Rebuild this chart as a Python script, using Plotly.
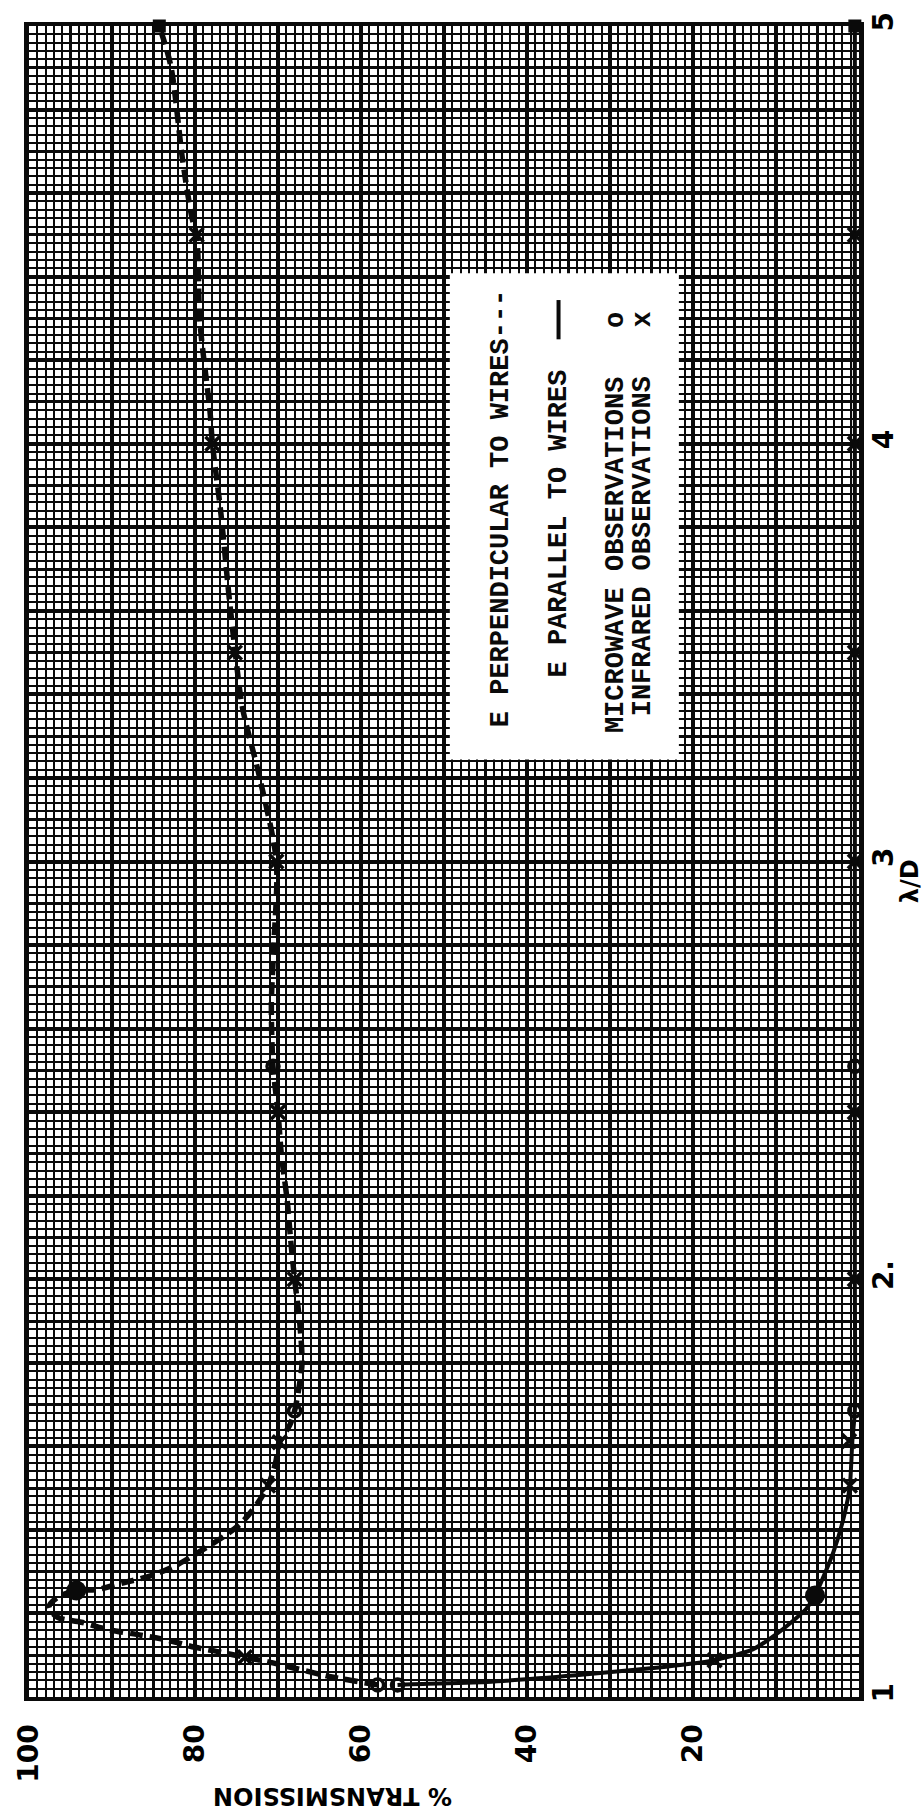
import plotly.graph_objects as go

# ---------------- data ----------------
# E perpendicular to wires (dashed curve): lambda/D and % transmission
perp_ld = [1.029, 1.048, 1.067, 1.084, 1.095, 1.107, 1.119, 1.136, 1.148, 1.162,
           1.179, 1.191, 1.215, 1.238, 1.255, 1.257, 1.274, 1.291, 1.317, 1.351,
           1.386, 1.417, 1.46, 1.506, 1.56, 1.61, 1.65, 1.685, 1.75, 1.80,
           1.90, 2.00, 2.10, 2.19, 2.30, 2.40, 2.51, 2.66, 2.80, 3.00,
           3.20, 3.37, 3.509, 3.635, 3.837, 4.0, 4.079, 4.29, 4.497, 4.544,
           4.68, 4.903, 5.0]
perp_t = [58.0, 63.5, 67.6, 71.2, 74.0, 76.8, 80.0, 83.3, 86.5, 90.6,
          93.7, 96.6, 97.6, 96.6, 94.3, 91.9, 88.5, 85.2, 82.1, 79.2,
          76.4, 74.4, 72.6, 71.2, 70.3, 69.8, 68.6, 68.0, 67.4, 67.1,
          67.4, 68.0, 68.5, 68.9, 69.6, 70.0, 70.6, 70.8, 70.5, 70.2,
          72.2, 74.3, 75.2, 75.9, 76.9, 77.9, 78.2, 79.4, 79.8, 80.4,
          81.5, 82.9, 84.3]

# E parallel to wires (solid curve)
par_ld = [1.029, 1.030, 1.036, 1.052, 1.072, 1.088, 1.114, 1.162, 1.210, 1.243,
          1.346, 1.441, 1.506, 1.613, 1.685, 2.0, 3.0, 4.0, 5.0]
par_t = [55.6, 54.8, 44.9, 34.1, 23.5, 17.4, 12.8, 9.2, 6.4, 5.3,
         3.1, 1.7, 1.1, 0.8, 0.5, 0.5, 0.5, 0.5, 0.5]

# microwave observations (o)
mw_ld = [1.029, 1.685, 2.51, 1.029, 1.685, 2.51]
mw_t = [58.0, 68.0, 70.6, 55.6, 0.5, 0.5]

# infrared observations (x)
ir_ld = [1.095, 1.506, 1.61, 2.0, 2.4, 3.0, 3.5, 4.0, 4.5,
         1.088, 1.506, 1.613, 2.0, 2.4, 3.0, 3.5, 4.0, 4.5]
ir_t = [74.0, 71.2, 69.8, 68.0, 70.0, 70.2, 75.2, 77.9, 79.8,
        17.4, 1.1, 1.2, 0.5, 0.5, 0.5, 0.5, 0.5, 0.5]

# coincident microwave + infrared points (filled)
both_ld = [1.255, 1.243]
both_t = [94.3, 5.3]
end_ld = [5.0, 5.0]
end_t = [84.3, 0.5]

# tick labels
t_label_vals = [20, 40, 60, 80, 100]
t_label_text = ["20", "40", "60", "80", "100"]
ld_label_vals = [1, 2, 3, 4, 5]
ld_label_text = ["1", "2.", "3", "4", "5"]

legend_lines = ["E PERPENDICULAR TO WIRES---",
                "E PARALLEL TO WIRES",
                "MICROWAVE OBSERVATIONS   o",
                " INFRARED OBSERVATIONS   x"]

# ---------------- figure ----------------
INK = "#0a0a0a"
fig = go.Figure()

fig.add_trace(go.Scatter(x=perp_t, y=perp_ld, mode="lines", cliponaxis=False,
                         line=dict(color=INK, width=5.5, dash="13px,7px",
                                   shape="spline", smoothing=0.8),
                         showlegend=False, hoverinfo="skip"))
fig.add_trace(go.Scatter(x=par_t, y=par_ld, mode="lines", cliponaxis=False,
                         line=dict(color=INK, width=4, shape="spline", smoothing=0.6),
                         showlegend=False, hoverinfo="skip"))
fig.add_trace(go.Scatter(x=mw_t, y=mw_ld, mode="markers", cliponaxis=False,
                         marker=dict(symbol="circle-open", size=12, color=INK,
                                     line=dict(width=3.5, color=INK)),
                         showlegend=False))
fig.add_trace(go.Scatter(x=ir_t, y=ir_ld, mode="markers", cliponaxis=False,
                         marker=dict(symbol="x-thin", size=14, color=INK,
                                     line=dict(width=3.5, color=INK)),
                         showlegend=False))
fig.add_trace(go.Scatter(x=both_t, y=both_ld, mode="markers", cliponaxis=False,
                         marker=dict(symbol="circle", size=20, color=INK),
                         showlegend=False))
fig.add_trace(go.Scatter(x=end_t, y=end_ld, mode="markers", cliponaxis=False,
                         marker=dict(symbol="square", size=13, color=INK),
                         showlegend=False))
# dummy trace so the heavy-grid overlay axes exist
fig.add_trace(go.Scatter(x=[None], y=[None], xaxis="x2", yaxis="y2",
                         showlegend=False, hoverinfo="skip"))

x_grid_vals = list(range(0, 101, 5))
x_grid_text = [t_label_text[t_label_vals.index(v)] if v in t_label_vals else ""
               for v in x_grid_vals]
y_grid_vals = [round(1 + 0.1 * i, 2) for i in range(41)]
y_grid_text = [ld_label_text[ld_label_vals.index(v)] if v in ld_label_vals else ""
               for v in y_grid_vals]

tickfont = dict(family="DejaVu Sans", size=28, color="black", weight="bold")

fig.update_layout(
    width=924, height=1820,
    margin=dict(l=19, r=65, t=12, b=123),
    paper_bgcolor="white", plot_bgcolor="white",
    showlegend=False,
    xaxis=dict(range=[100, 0], tickmode="array", tickvals=x_grid_vals,
               ticktext=x_grid_text, tickangle=-90, ticks="",
               showgrid=True, gridcolor=INK, gridwidth=2.6,
               minor=dict(dtick=1, tick0=0, showgrid=True, gridcolor=INK,
                          gridwidth=1.8, ticks=""),
               showline=True, linecolor=INK, linewidth=4, mirror=True,
               zeroline=False, tickfont=tickfont, ticklabelstandoff=12),
    yaxis=dict(range=[1, 5], side="right", tickmode="array", tickvals=y_grid_vals,
               ticktext=y_grid_text, tickangle=-90, ticks="",
               showgrid=True, gridcolor=INK, gridwidth=2.6,
               minor=dict(dtick=0.02, tick0=1, showgrid=True, gridcolor=INK,
                          gridwidth=1.8, ticks=""),
               showline=True, linecolor=INK, linewidth=4.5, mirror=True,
               zeroline=False, tickfont=tickfont, ticklabelstandoff=-4),
    xaxis2=dict(overlaying="x", anchor="y2", range=[100, 0], dtick=10, tick0=0,
                showgrid=True, gridcolor=INK, gridwidth=3.6,
                showticklabels=False, ticks="", zeroline=False, showline=False),
    yaxis2=dict(overlaying="y", anchor="x2", side="right", range=[1, 5],
                dtick=0.2, tick0=1, showgrid=True, gridcolor=INK, gridwidth=3.6,
                showticklabels=False, ticks="", zeroline=False, showline=False),
)

# legend box (white panel) and its rotated typewriter text
fig.add_shape(type="rect", xref="paper", yref="paper",
              x0=0.507, x1=0.783, y0=0.561, y1=0.852,
              fillcolor="white", line=dict(width=0), layer="above")
fig.add_shape(type="line", xref="paper", yref="paper",
              x0=0.638, x1=0.638, y0=0.8125, y1=0.836,
              line=dict(color=INK, width=4), layer="above")

legend_font = dict(family="Liberation Mono", size=27, color=INK, weight="bold")
legend_x = [0.569, 0.638, 0.707, 0.740]
legend_y = [0.711, 0.702, 0.703, 0.703]
for txt, lx, ly in zip(legend_lines, legend_x, legend_y):
    fig.add_annotation(text=txt.replace(" ", "&nbsp;"), xref="paper", yref="paper",
                       x=lx, y=ly, textangle=-90, showarrow=False,
                       xanchor="center", yanchor="middle", font=legend_font)

fig.add_annotation(text="λ/D", xref="paper", yref="paper", x=1.061, y=0.488,
                   textangle=-90, showarrow=False, xanchor="center",
                   yanchor="middle",
                   font=dict(family="DejaVu Sans", size=24, color="black",
                             weight="bold"))
fig.add_annotation(text="% TRANSMISSION", xref="paper", yref="paper",
                   x=0.365, y=-0.0593, textangle=180, showarrow=False,
                   xanchor="center", yanchor="middle",
                   font=dict(family="DejaVu Sans", size=24, color="black",
                             weight="bold"))

fig.write_html("out.html")
